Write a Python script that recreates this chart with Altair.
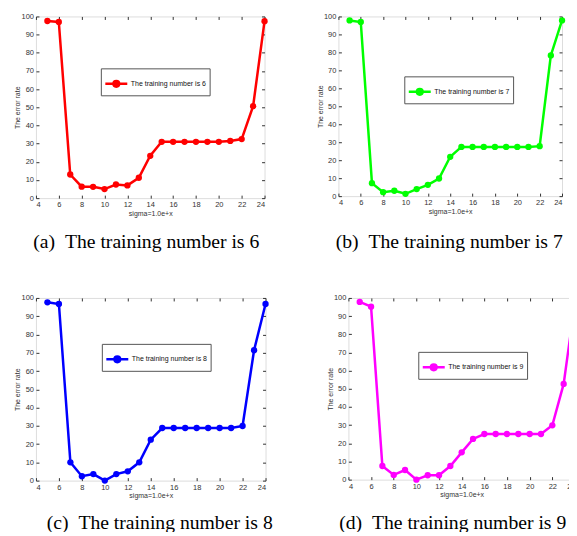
import altair as alt
import pandas as pd

sigma_x = list(range(5, 25))

err_6 = [97.5, 97, 13, 6.3, 6.2, 5, 7.5, 7, 11.2, 23.3, 31, 31, 31, 31, 31, 31, 31.5, 32.5, 50.6, 97.4]
err_7 = [97.8, 96.9, 7.2, 2.2, 3.0, 1.3, 3.9, 6.3, 9.8, 21.9, 27.4, 27.4, 27.4, 27.4, 27.4, 27.4, 27.4, 27.8, 78.3, 97.8]
err_8 = [97.6, 96.7, 10, 2.4, 3.6, 0, 3.6, 5.1, 10, 22.4, 28.8, 28.8, 28.8, 28.8, 28.8, 28.8, 28.8, 29.9, 71.4, 96.7]
err_9 = [97.8, 95.2, 7.5, 2.6, 5.3, 0, 2.4, 2.4, 7.5, 15, 22.4, 25.1, 25.1, 25.1, 25.1, 25.1, 25.1, 29.9, 52.7, 97.8]

legend_labels = ["The training number is 6", "The training number is 7",
                 "The training number is 8", "The training number is 9"]
captions = ["(a)\u00a0\u00a0The training number is 6", "(b)\u00a0\u00a0The training number is 7",
            "(c)\u00a0\u00a0The training number is 8", "(d)\u00a0\u00a0The training number is 9"]
colors = ["#ff0000", "#00ff00", "#0000ff", "#ff00ff"]

x_ticks = list(range(4, 25, 2))
y_ticks = list(range(0, 101, 10))

SANS = "Liberation Sans"
AX = "#333333"

SYMBOL = "M-1,0H1M0.26,0A0.26,0.26,0,1,1,-0.26,0A0.26,0.26,0,1,1,0.26,0Z"


def panel(ys, label, caption, color, w, h, lx, ly, cdx, ytp, coff):
    df = pd.DataFrame({"x": sigma_x, "y": ys, "series": label})
    xsc = alt.Scale(domain=[4, 24], nice=False, zero=False)
    ysc = alt.Scale(domain=[0, 100], nice=False)
    common = dict(tickSize=3, offset=-3, domain=False, grid=False, tickColor=AX,
                  minExtent=0,
                  labelFont=SANS, labelFontSize=7.5, labelColor=AX,
                  titleFont=SANS, titleFontSize=7, titleFontWeight="normal",
                  titleColor=AX)
    bottom = alt.Axis(orient="bottom", values=x_ticks, labelPadding=2.5,
                      title="sigma=1.0e+x", titlePadding=1, **common)
    left = alt.Axis(orient="left", values=y_ticks, labelPadding=2.5,
                    title="The error rate", titlePadding=ytp, **common)
    top = alt.Axis(orient="top", values=x_ticks, labels=False, title=None,
                   tickSize=3, offset=-3, domain=False, grid=False, tickColor=AX,
                   minExtent=0)
    right = alt.Axis(orient="right", values=y_ticks, labels=False, title=None,
                     tickSize=3, offset=-3, domain=False, grid=False, tickColor=AX,
                     minExtent=0)
    base = alt.Chart(df)
    line = base.mark_line(
        strokeWidth=2.5,
        point=alt.OverlayMarkDef(filled=True, size=40, color=color),
    ).encode(
        x=alt.X("x:Q", scale=xsc, axis=bottom),
        y=alt.Y("y:Q", scale=ysc, axis=left),
        color=alt.Color(
            "series:N",
            scale=alt.Scale(domain=[label], range=[color]),
            legend=alt.Legend(
                title=None, orient="none", legendX=lx, legendY=ly,
                symbolType=SYMBOL, symbolSize=484, symbolStrokeWidth=2.5,
                symbolFillColor=color, symbolStrokeColor=color,
                labelFont=SANS, labelFontSize=7, labelColor="#111",
                labelOffset=2, padding=3, strokeColor="#555",
                fillColor="white",
            ),
        ),
    )
    frame = base.mark_point(opacity=0).encode(
        x=alt.X("x:Q", scale=xsc, axis=top),
        y=alt.Y("y:Q", scale=ysc, axis=right),
    )
    return alt.layer(line, frame).properties(
        width=w, height=h,
        title=alt.TitleParams(
            caption, orient="bottom", anchor="middle", frame="group",
            font="Liberation Serif", fontSize=19.7, fontWeight="normal",
            color="black", offset=coff, dx=cdx,
        ),
    )


pa = panel(err_6, legend_labels[0], captions[0], colors[0], 229, 182, 65, 52, -4, 0, 16)
pb = panel(err_7, legend_labels[1], captions[1], colors[1], 224, 180, 66, 60, -1, 0, 18)
pc = panel(err_8, legend_labels[2], captions[2], colors[2], 230, 183, 66, 46, 9, 0, 14)
pd_ = panel(err_9, legend_labels[3], captions[3], colors[3], 227, 182, 70, 54, -9, 0, 15)

row1 = alt.hconcat(pa, pb, spacing=74, bounds="flush").resolve_scale(color="independent")
row2 = alt.hconcat(pc, pd_, spacing=83, bounds="flush").resolve_scale(color="independent")

chart = alt.vconcat(row1, row2, spacing=40).resolve_scale(
    color="independent"
).properties(
    padding={"left": 5, "top": 3, "right": -12, "bottom": -2}
).configure_view(stroke=AX, strokeWidth=1).configure(background="white")

chart.save("out.html", embed_options={"renderer": "svg", "actions": False})
